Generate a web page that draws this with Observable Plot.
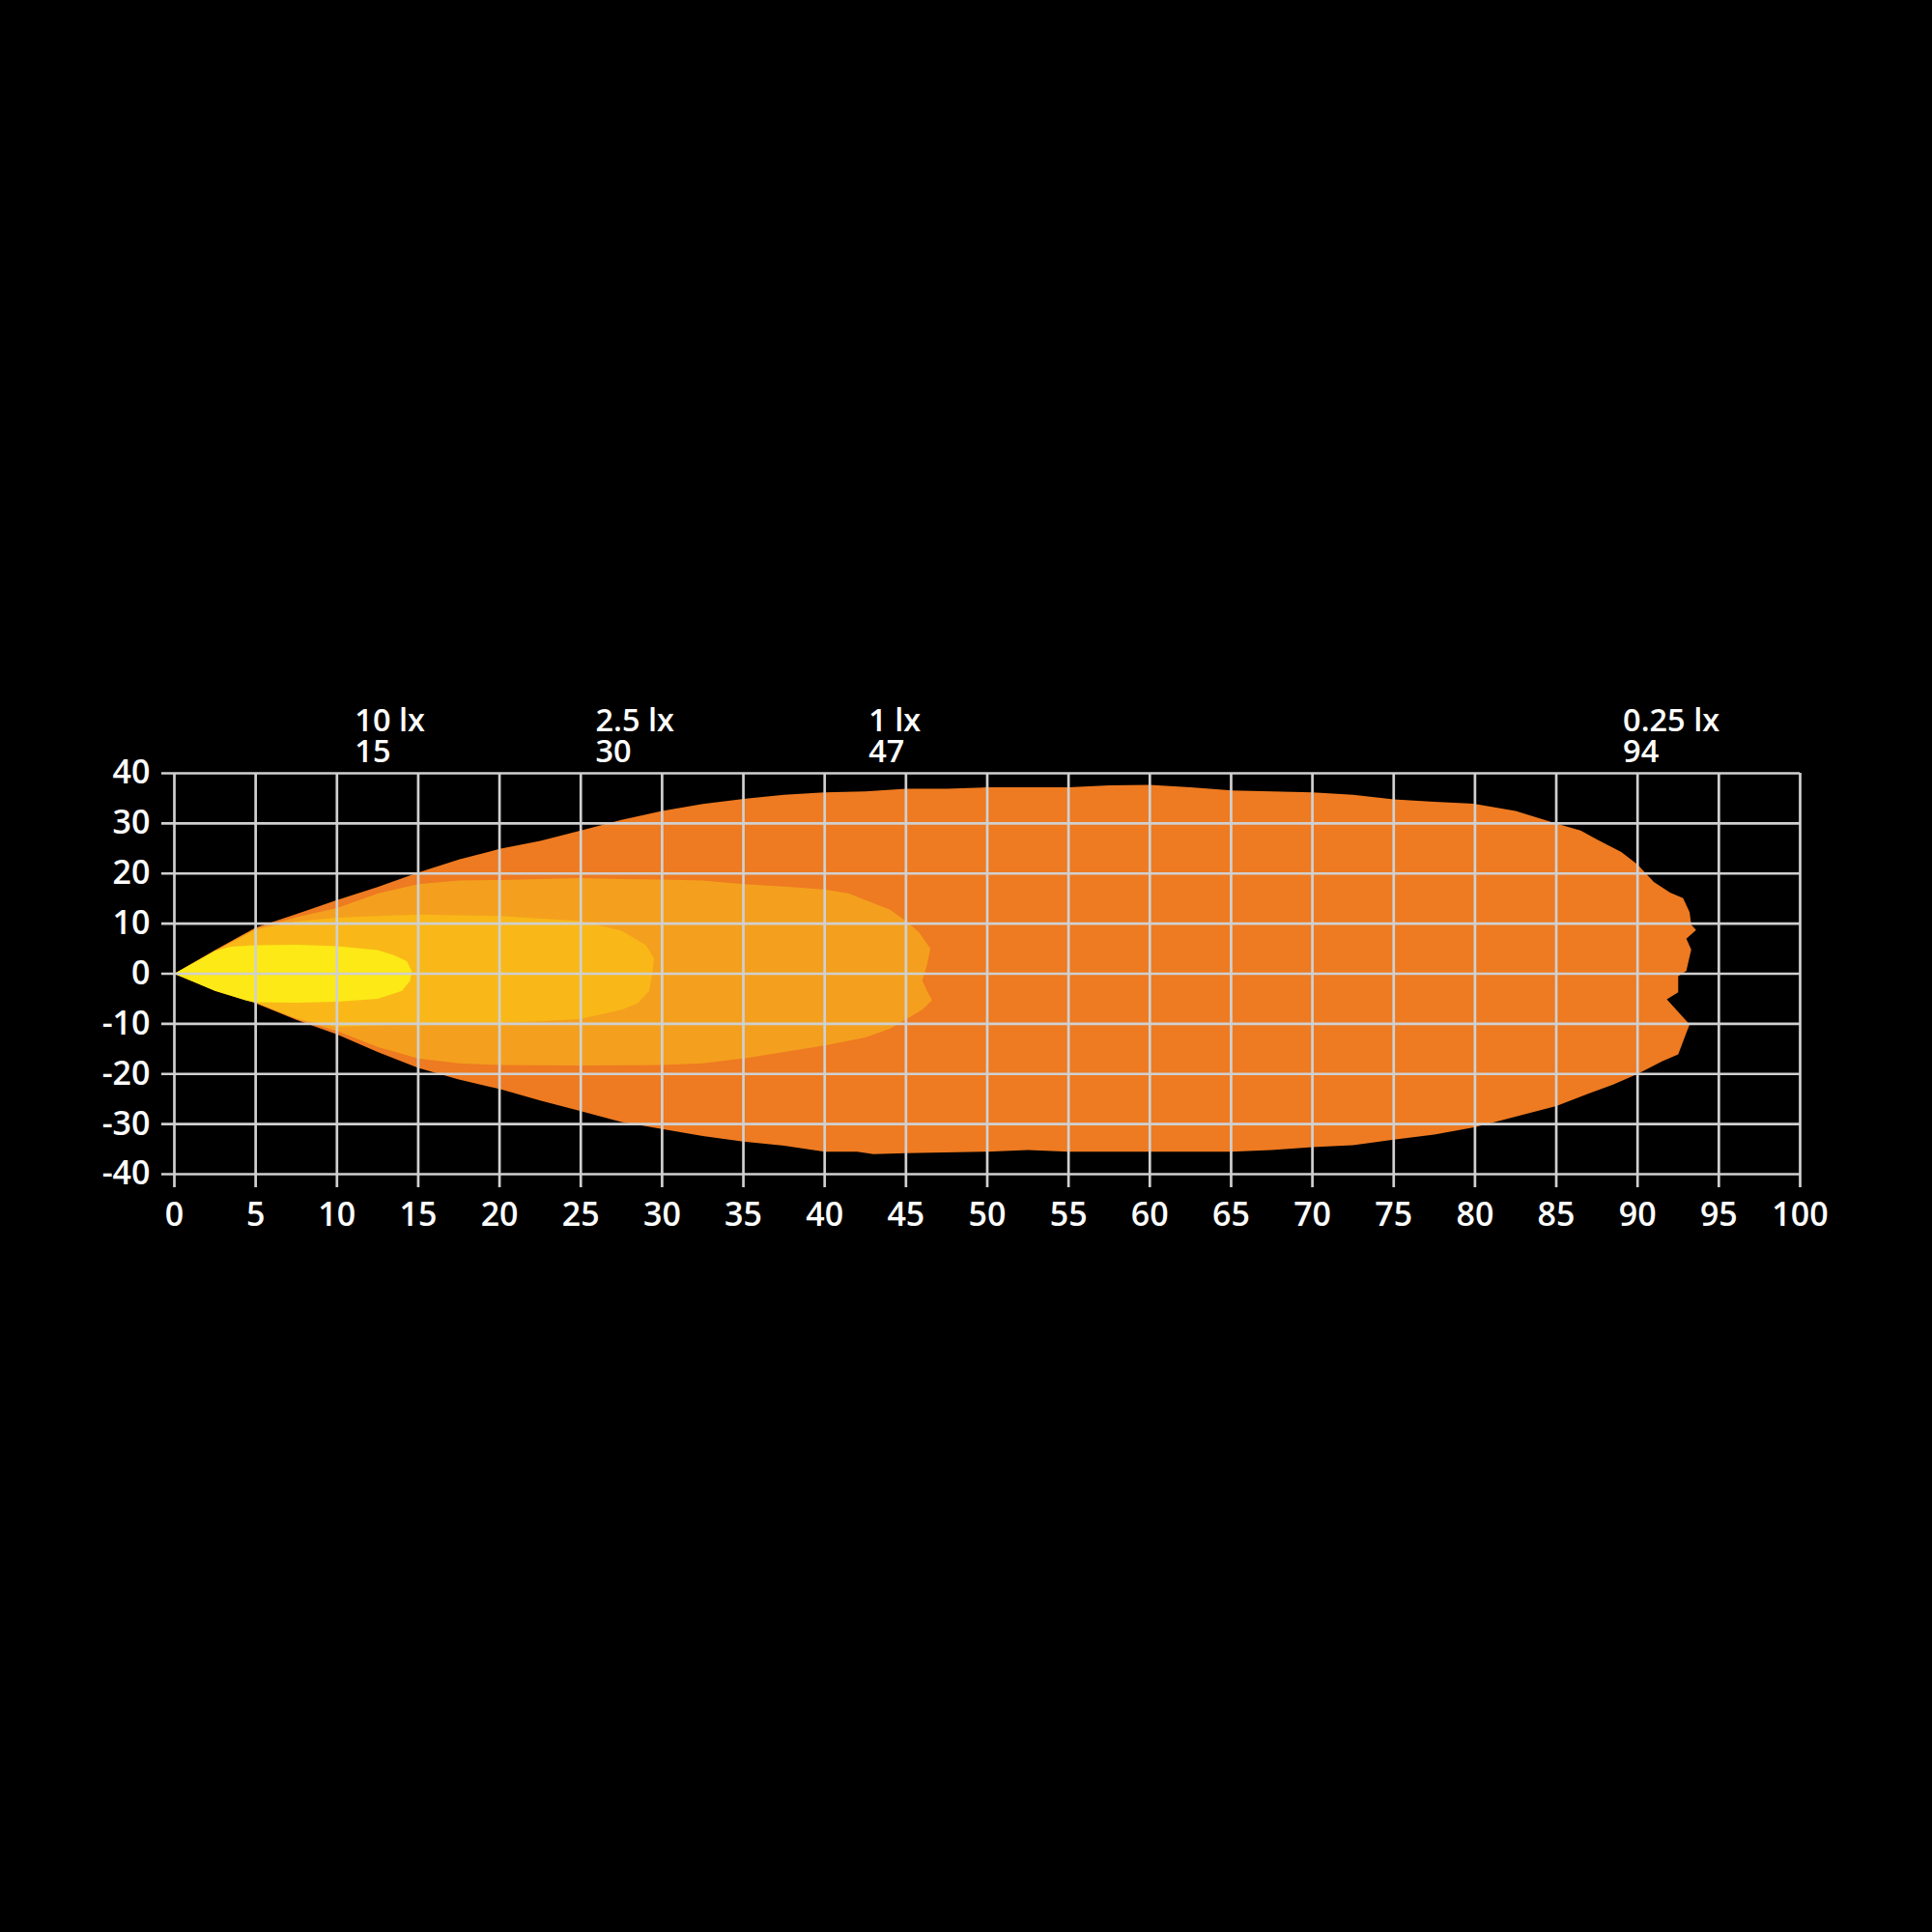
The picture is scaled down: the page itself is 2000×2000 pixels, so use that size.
<!DOCTYPE html>
<html><head><meta charset="utf-8">
<script src="https://cdn.jsdelivr.net/npm/d3@7"></script>
<script src="https://cdn.jsdelivr.net/npm/@observablehq/plot@0.6"></script>
<style>
html,body{margin:0;padding:0;background:#000;}
#chart{width:2000px;height:2000px;}
</style></head><body><div id="chart"></div>
<script>
// tick values
const xTicks = [0,5,10,15,20,25,30,35,40,45,50,55,60,65,70,75,80,85,90,95,100];
const yTicks = [-40,-30,-20,-10,0,10,20,30,40];

// isolux contours (distance m, lateral m)
const zone025 = [[0,0],[2.5,4.7],[5,9.2],[7.5,11.9],[10,14.7],[12.5,17.3],[15,20.2],[17.5,22.8],[20,24.9],[22.5,26.5],[25,28.6],[27.5,30.7],[30,32.5],[32.5,33.9],[35,34.9],[37.5,35.7],[40,36.2],[42.5,36.4],[45,36.9],[47.5,36.9],[50,37.2],[55,37.2],[57.5,37.6],[60,37.7],[62.5,37.2],[65,36.6],[67.5,36.4],[70,36.2],[72.5,35.7],[75,34.8],[77.5,34.3],[80,33.9],[82.5,32.5],[85,30.0],[86.5,28.6],[87.5,26.8],[89,24.3],[90,21.8],[91,18.3],[92,16.2],[92.8,15.1],[93.2,12.3],[93.3,9.8],[93.6,8.7],[93.0,7.0],[93.3,4.8],[93.0,0.6],[92.5,-0.5],[92.5,-3.7],[91.8,-5.1],[92.5,-7.6],[93.2,-10.1],[93.0,-11.8],[92.5,-16.1],[91.5,-17.5],[90,-20],[88.5,-22.1],[87,-23.9],[85,-26.4],[83,-28.1],[81,-29.8],[80,-30.6],[77.5,-32.1],[75,-33.1],[72.5,-34.2],[70,-34.6],[67.5,-35.2],[65,-35.5],[60,-35.5],[55,-35.5],[52.5,-35.2],[50,-35.5],[45,-35.8],[43,-36.0],[42,-35.5],[40,-35.5],[37.5,-34.3],[35,-33.5],[32.5,-32.4],[30,-31.0],[27.5,-29.6],[25,-27.4],[22.5,-25.3],[20,-23.0],[17.5,-21.1],[15,-18.8],[12.5,-15.6],[10,-12.1],[7.5,-9.2],[5,-5.9],[2.5,-3.4]];
const zone1 = [[0,0],[2.5,4.6],[5,9.0],[7.5,11.3],[10,13.1],[12.5,16.0],[15,17.9],[17.5,18.6],[20,18.7],[22.5,18.9],[25,19.1],[27.5,18.9],[30,18.8],[32.5,18.6],[35,17.9],[37.5,17.4],[40,16.8],[41.5,16.0],[42.5,14.7],[44,12.8],[45,10.5],[45.8,8.3],[46.5,5.0],[46.3,1.8],[46,-1.4],[46.3,-3.4],[46.6,-5.3],[46,-7.2],[45,-9.1],[44,-11.0],[42.5,-12.7],[40,-14.3],[37.5,-15.6],[35,-16.9],[32.5,-17.9],[30,-18.2],[25,-18.3],[20,-18.2],[17.5,-17.9],[15,-16.9],[12.5,-14.6],[10,-11.4],[7.5,-9.0],[5,-5.8],[2.5,-3.3]];
const zone25 = [[0,0],[2.5,4.5],[5,8.8],[7.5,10.4],[10,11.2],[12.5,11.5],[15,11.8],[20,11.5],[25,10.5],[27.5,8.6],[29,5.7],[29.5,3.1],[29.4,0],[29.2,-3.4],[28.5,-5.9],[27.5,-7.2],[25,-9.0],[22.5,-9.5],[20,-9.8],[15,-10.1],[12.5,-10.3],[10,-10.6],[7.5,-8.9],[5,-5.8],[2.5,-3.3]];
const zone10 = [[0,0],[2.5,4.6],[3.5,5.4],[5,5.7],[7.5,5.8],[10,5.5],[12.5,4.7],[13.5,3.7],[14.3,2.5],[14.6,0.5],[14.5,-1.4],[14,-3.4],[12.5,-5.0],[10,-5.6],[7.5,-5.8],[5,-5.7],[4.5,-5.4],[2.5,-3.4]];

const zoneColors = ["#EE7A21","#F4A01E","#F9B818","#FCE916"];

// labels above chart
const luxLabels = ["10 lx","2.5 lx","1 lx","0.25 lx"];
const distLabels = ["15","30","47","94"];
const labelX = [11.1,25.9,42.7,89.1];

const toRows = pts => pts.map(([x,y]) => ({x, y}));
const zones = [zone025, zone1, zone25, zone10];
const labels = luxLabels.map((t,i) => ({x: labelX[i], text: t + "\n" + distLabels[i]}));

const grid = "#d0d0d0";
const font = "'Open Sans', 'Noto Sans', sans-serif";
const plot = Plot.plot({
  width: 2000, height: 2000,
  marginTop: 800, marginBottom: 785, marginLeft: 180, marginRight: 137,
  style: {background: "#000", color: "#fff", fontFamily: font, fontSize: "34px", fontWeight: 600},
  x: {domain: [0, 100], axis: null, label: null},
  y: {domain: [-40, 40], axis: null, label: null},
  marks: [
    ...zones.map((z, i) => Plot.line(toRows(z), {x: "x", y: "y", fill: zoneColors[i], stroke: "none", curve: "linear-closed"})),
    Plot.ruleX(xTicks, {x: d => d, y1: 40, y2: -40, insetBottom: -14, stroke: grid, strokeWidth: 2.7}),
    Plot.ruleY(yTicks, {y: d => d, x1: 0, x2: 100, insetLeft: -13, stroke: grid, strokeWidth: 2.7}),
    Plot.axisX({ticks: xTicks, tickSize: 0, tickPadding: 29, tickFormat: d => String(d), fill: "#fff", fontSize: 34, fontWeight: 600, label: null}),
    Plot.axisY({ticks: yTicks, tickSize: 0, tickPadding: 25, tickFormat: d => String(d), fill: "#fff", fontSize: 34, fontWeight: 600, label: null}),
    Plot.text(labels, {x: "x", text: "text", frameAnchor: "top", textAnchor: "start", lineAnchor: "bottom", lineHeight: 0.98, dy: -12, fill: "#fff", fontSize: 32.5, fontWeight: 600})
  ]
});
document.getElementById("chart").appendChild(plot);
</script>
</body></html>
